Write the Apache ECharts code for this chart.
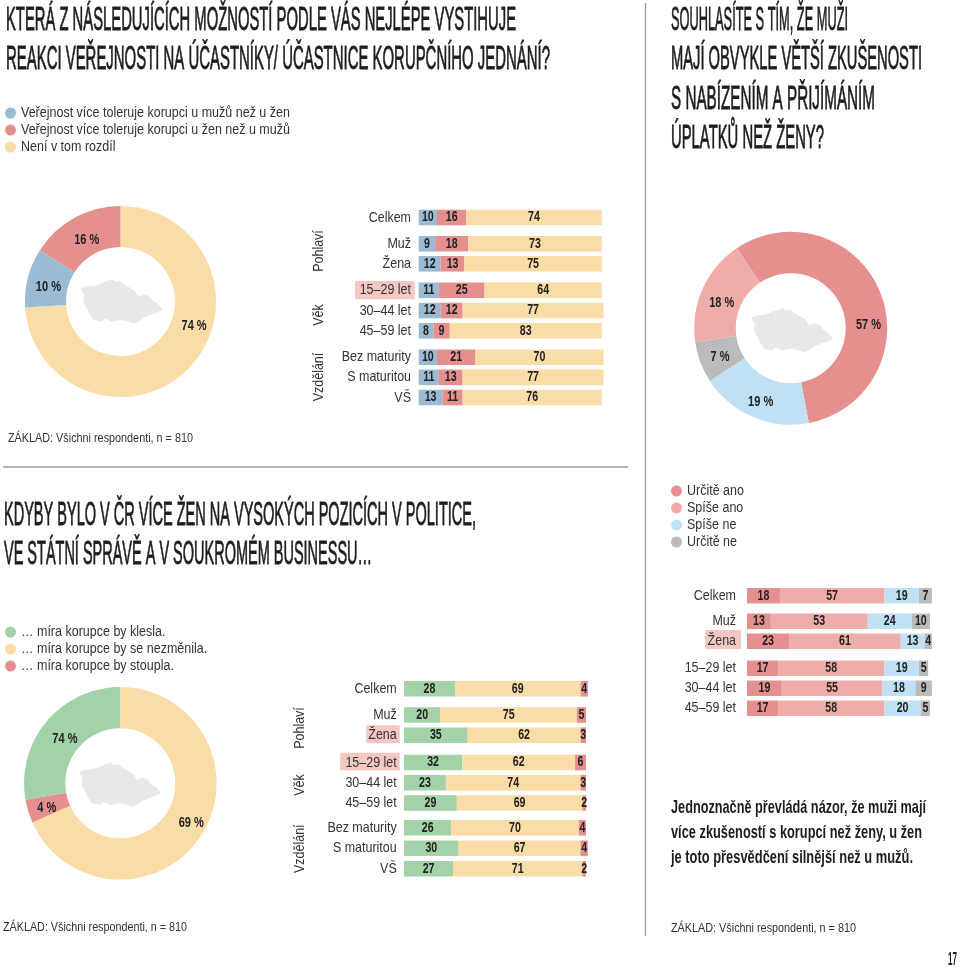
<!DOCTYPE html>
<html><head><meta charset="utf-8">
<style>html,body{margin:0;padding:0;background:#fff}#c{width:960px;height:967px}</style>
<script src="https://cdn.jsdelivr.net/npm/echarts@6/dist/echarts.min.js"></script>
</head><body><div id="c"></div>
<script>
// ---------- data ----------
const topLegend = ['Veřejnost více toleruje korupci u mužů než u žen','Veřejnost více toleruje korupci u žen než u mužů','Není v tom rozdíl'];
const rightLegend = ['Určitě ano','Spíše ano','Spíše ne','Určitě ne'];
const bottomLegend = ['… míra korupce by klesla.','… míra korupce by se nezměnila.','… míra korupce by stoupla.'];

const topRows = ['Celkem','Muž','Žena','15–29 let','30–44 let','45–59 let','Bez maturity','S maturitou','VŠ'];
const topBlue = [10,9,12,11,12,8,10,11,13];
const topRed = [16,18,13,25,12,9,21,13,11];
const topYellow = [74,73,75,64,77,83,70,77,76];

const rightRows = ['Celkem','Muž','Žena','15–29 let','30–44 let','45–59 let'];
const rightYesSure = [18,13,23,17,19,17];
const rightYes = [57,53,61,58,55,58];
const rightNo = [19,24,13,19,18,20];
const rightNoSure = [7,10,4,5,9,5];

const bottomRows = ['Celkem','Muž','Žena','15–29 let','30–44 let','45–59 let','Bez maturity','S maturitou','VŠ'];
const bottomGreen = [28,20,35,32,23,29,26,30,27];
const bottomYellow = [69,75,62,62,74,69,70,67,71];
const bottomRed = [4,5,3,6,3,2,4,4,2];

const pie1Values = [74,10,16];
const pie1Labels = ['74 %','10 %','16 %'];
const pie2Values = [57,19,7,18];
const pie2Labels = ['57 %','19 %','7 %','18 %'];
const pie3Values = [69,4,28];
const pie3Labels = ['69 %','4 %','74 %'];   // printed as in the source

// ---------- style / layout ----------
const FONT = '"Liberation Sans",sans-serif';
const SCALE_REG = 0.86, SCALE_LEGEND = 0.893, SCALE_BOLD = 0.76;   // the source face is condensed
const C = {blue:'#9BBBD4',red:'#E58F8F',yellow:'#F9DCA6',pink:'#EEADA8',sky:'#BFE0F5',gray:'#BBBBBB',green:'#A3D2A8',hl:'#F4C7C3',ink:'#2b2b2b',line:'#9a9a9a',map:'#E8E8EA'};
const fit = (()=>{const c=document.createElement('canvas').getContext('2d');
  return (s,font,w)=>{c.font=font;return w/c.measureText(s).width;};})();
function txt(s,x,y,w,font,fill,stroke){return {type:'text',x,y,scaleX:fit(s,font,w),silent:true,
  style:Object.assign({text:s,font,fill:fill||C.ink,textAlign:'left',textVerticalAlign:'middle'},stroke?{stroke:fill,lineWidth:stroke}:{})};}
function rot(s,x,y){return {type:'text',x,y,rotation:Math.PI/2,scaleX:SCALE_REG,silent:true,
  style:{text:s,font:'14.5px '+FONT,fill:'#333',textAlign:'center',textVerticalAlign:'middle'}};}
const box=(x1,y1,x2,y2)=>({type:'rect',z:-1,silent:true,shape:{x:x1,y:y1,width:x2-x1,height:y2-y1},style:{fill:C.hl}});
const rule=(x1,y1,x2,y2)=>({type:'line',silent:true,shape:{x1,y1,x2,y2},style:{stroke:C.line,lineWidth:1.3}});

const grids=[],xAxes=[],yAxes=[],series=[];
function panel(rows,names,cols,colors,x0,scale,margin,groups){
  let r=0;
  groups.forEach((centers)=>{
    const n=centers.length, s=n>1?(centers[n-1]-centers[0])/(n-1):20, idx=grids.length;
    grids.push({left:x0,top:centers[0]-s/2,height:s*n,width:110*scale});
    xAxes.push({gridIndex:idx,type:'value',min:0,max:110,show:false});
    yAxes.push({gridIndex:idx,type:'category',inverse:true,data:rows.slice(r,r+n),
      axisLine:{show:false},axisTick:{show:false},
      axisLabel:{margin,color:'#333',fontSize:14.5,fontFamily:FONT}});
    names.forEach((nm,i)=>series.push({type:'bar',name:nm,xAxisIndex:idx,yAxisIndex:idx,stack:'g'+idx,
      barWidth:15.6,silent:true,animation:false,data:cols[i].slice(r,r+n),
      itemStyle:{color:colors[i]},
      label:{show:true,position:'inside',color:'#222',fontSize:14,fontWeight:'bold',fontFamily:FONT}}));
    r+=n;
  });
}
panel(topRows,topLegend,[topBlue,topRed,topYellow],[C.blue,C.red,C.yellow],418.7,1.83,7.7,
  [[217.5],[243.8,263.8],[290.3,310.3,330.8],[357.2,377.2,397.5]]);
panel(rightRows,rightLegend,[rightYesSure,rightYes,rightNo,rightNoSure],[C.red,C.pink,C.sky,C.gray],747,1.83,11,
  [[595.7],[621.3,641.3],[668.3,688.3,708.3]]);
panel(bottomRows,bottomLegend,[bottomGreen,bottomYellow,bottomRed],[C.green,C.yellow,C.red],404,1.82,7.3,
  [[688.8],[715,735.2],[762.5,782.7,803],[827.8,849,868.8]]);

function donut(names,values,colors,center,R,r,startAngle,labels,offs){
  series.push({type:'pie',silent:true,animation:false,center,radius:[r,R],startAngle,clockwise:true,
    labelLine:{show:false},
    label:{show:true,position:'inside',color:'#222',fontSize:14.5,fontWeight:'bold',fontFamily:FONT,
      formatter:p=>labels[p.dataIndex]},
    labelLayout:p=>({dx:offs[p.dataIndex][0],dy:offs[p.dataIndex][1]}),
    data:values.map((v,i)=>({name:names[i],value:v,itemStyle:{color:colors[i]}}))});
}
donut([topLegend[2],topLegend[0],topLegend[1]],pie1Values,[C.yellow,C.blue,C.red],[120.5,301.5],95.5,54.5,90,
  pie1Labels,[[22,-28.5],[4.5,5],[5,6.5]]);
donut([rightLegend[0],rightLegend[2],rightLegend[3],rightLegend[1]],pie2Values,[C.red,C.sky,C.gray,C.pink],[790.7,328.2],96.5,55,124,
  pie2Labels,[[6.6,26.4],[1,1],[4,1],[4,6.5]]);
donut([bottomLegend[1],bottomLegend[2],bottomLegend[0]],pie3Values,[C.yellow,C.red,C.green],[120.3,783.3],96.3,55,90,
  pie3Labels,[[6.6,-3],[2.3,2],[6.3,6.6]]);

// decorative map of Czechia inside each donut hole
const mapOutline=[[32,70],[50,64],[75,62],[100,52],[120,45],[128,42],[135,50],[150,48],[165,60],[180,68],[195,78],[205,95],[220,88],[240,95],[245,105],[265,118],[278,135],[262,142],[240,150],[220,158],[205,170],[190,175],[170,168],[150,165],[125,170],[105,160],[95,170],[70,165],[55,140],[40,110],[42,90]];
const mapSeams=[[[42,90],[80,100],[100,120],[95,160]],[[100,52],[105,90],[80,100]],[[105,90],[150,95],[165,60]],[[150,95],[160,125],[150,165]],[[100,120],[160,125],[205,120],[220,158]],[[205,95],[205,120],[262,142]]];
function map(cx,cy){return {type:'group',x:cx-151.5/3,y:cy-109.5/3,scaleX:1/3,scaleY:1/3,silent:true,children:[
  {type:'polygon',shape:{points:mapOutline},style:{fill:C.map}},
  ...mapSeams.map(p=>({type:'polyline',shape:{points:p},style:{stroke:'#EEEEEF',lineWidth:1.5,fill:null}}))]};}

const TITLE='33px '+FONT, STATE='bold 19px '+FONT, NOTE='13.5px '+FONT, DARK='#1d1d1b', TS=0.8;
const graphics=[
  rule(645.5,3,645.5,936), rule(3,467,628,467),
  box(355,281,414.7,299.3), box(705.3,630,741,649), box(366.3,725.3,399.7,743.3), box(340.3,752.7,399.7,770.3),
  txt('KTERÁ Z NÁSLEDUJÍCÍCH MOŽNOSTÍ PODLE VÁS NEJLÉPE VYSTIHUJE',6,21,510,TITLE,DARK,TS),
  txt('REAKCI VEŘEJNOSTI NA ÚČASTNÍKY/ ÚČASTNICE KORUPČNÍHO JEDNÁNÍ?',6,60.2,544,TITLE,DARK,TS),
  txt('SOUHLASÍTE S TÍM, ŽE MUŽI',671,21,177,TITLE,DARK,TS),
  txt('MAJÍ OBVYKLE VĚTŠÍ ZKUŠENOSTI',671,60.2,251,TITLE,DARK,TS),
  txt('S NABÍZENÍM A PŘIJÍMÁNÍM',671,99.8,204,TITLE,DARK,TS),
  txt('ÚPLATKŮ NEŽ ŽENY?',671,138.5,153,TITLE,DARK,TS),
  txt('KDYBY BYLO V ČR VÍCE ŽEN NA VYSOKÝCH POZICÍCH V POLITICE,',4,515.5,472,TITLE,DARK,TS),
  txt('VE STÁTNÍ SPRÁVĚ A V SOUKROMÉM BUSINESSU…',4,555,368,TITLE,DARK,TS),
  txt('Jednoznačně převládá názor, že muži mají',671,808,255,STATE,DARK),
  txt('více zkušeností s korupcí než ženy, u žen',671,833,251,STATE,DARK),
  txt('je toto přesvědčení silnější než u mužů.',671,858,242,STATE,DARK),
  txt('ZÁKLAD: Všichni respondenti, n = 810',8,438,185,NOTE,'#333'),
  txt('ZÁKLAD: Všichni respondenti, n = 810',3,927,184,NOTE,'#333'),
  txt('ZÁKLAD: Všichni respondenti, n = 810',671,928,185,NOTE,'#333'),
  txt('17',948,960,9,'bold 18px '+FONT,DARK),
  rot('Pohlaví',319,251),rot('Věk',319,315),rot('Vzdělání',319,377),
  rot('Pohlaví',300,728),rot('Věk',300,785),rot('Vzdělání',300,848.7),
  map(120.5,301.5),map(791.1,330.3),map(119,784.8)
];

const legendBase={orient:'vertical',icon:'circle',itemWidth:11,itemHeight:11,itemGap:3,padding:0,selectedMode:false,
  textStyle:{color:'#333',fontSize:14,fontFamily:FONT}};
const option={
  animation:false,backgroundColor:'#fff',
  legend:[
    Object.assign({},legendBase,{left:5,top:106,data:topLegend}),
    Object.assign({},legendBase,{left:671,top:484,data:rightLegend}),
    Object.assign({},legendBase,{left:5,top:625,data:bottomLegend})
  ],
  grid:grids,xAxis:xAxes,yAxis:yAxes,series,graphic:graphics
};
const chart=echarts.init(document.getElementById('c'),null,{renderer:'canvas'});
chart.setOption(option);
// condense the library's own text labels (no condensed face is installed)
const zr=chart.getZr();
const squeeze=t=>{
  if(!t||t.type!=='text'||t.scaleX!==1) return;
  const bold=String(t.style.fontWeight||'').includes('bold')||String(t.style.font||'').includes('bold');
  t.scaleX=bold?SCALE_BOLD:(t.style.fontSize===14?SCALE_LEGEND:SCALE_REG);
  t.originX=t.style.x||0;
  t.markRedraw();
};
zr.storage.traverse(el=>{ squeeze(el); if(el.getTextContent) squeeze(el.getTextContent()); });
zr.refresh();
</script></body></html>
